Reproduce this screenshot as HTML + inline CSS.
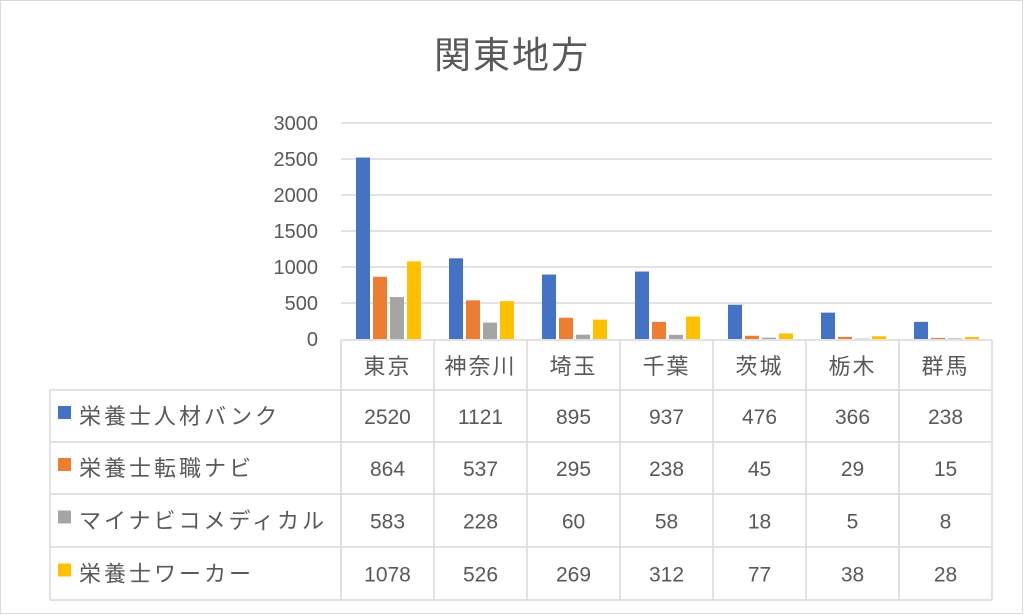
<!DOCTYPE html>
<html><head><meta charset="utf-8"><style>
body{margin:0;background:#fff}
svg{display:block;font-family:"Liberation Sans","Noto Sans CJK JP",sans-serif}
</style></head><body>
<svg id="c" width="1024" height="615" viewBox="0 0 1024 615">
<rect x="0.5" y="0.5" width="1022" height="613" fill="#fff" stroke="#d9d9d9"/>
<text x="512" y="68" text-anchor="middle" font-size="37" letter-spacing="2" fill="#595959">関東地方</text>
<g id="grid"></g><g id="yt"></g><g id="bars"></g><g id="tbl"></g>
</svg>
<script>
const categories=["東京","神奈川","埼玉","千葉","茨城","栃木","群馬"];
const seriesNames=["栄養士人材バンク","栄養士転職ナビ","マイナビコメディカル","栄養士ワーカー"];
const s1=[2520,1121,895,937,476,366,238];
const s2=[864,537,295,238,45,29,15];
const s3=[583,228,60,58,18,5,8];
const s4=[1078,526,269,312,77,38,28];
const yTicks=[0,500,1000,1500,2000,2500,3000];
const series=[s1,s2,s3,s4];
const colors=["#4472c4","#ed7d31","#a5a5a5","#ffc000"];
const NS="http://www.w3.org/2000/svg";
const X0=341,CW=93,Y0=339,YMAX=3000,PH=216;
const y=v=>Y0-v/YMAX*PH;
const xc=i=>X0+i*CW;
function mk(tag,attrs,parent,txt){const e=document.createElementNS(NS,tag);for(const k in attrs)e.setAttribute(k,attrs[k]);if(txt!==undefined)e.textContent=txt;document.getElementById(parent).appendChild(e);return e;}
yTicks.forEach(t=>{
  if(t>0){const l=mk("line",{x1:X0,x2:992,y1:y(t),y2:y(t),stroke:"#d9d9d9","stroke-width":1.5},"grid");
  
  }
  const tx=mk("text",{x:318,y:y(t)+7,"text-anchor":"end","font-size":20,fill:"#595959"},"yt",String(t));
  
  
});
series.forEach((s,si)=>{s.forEach((v,i)=>{
  const r=mk("rect",{x:xc(i)+15+si*17,y:y(v),width:14,height:Y0-y(v),fill:colors[si]},"bars");
  
  
});});
const rows=[340,390,442,494,547,600];
const g="tbl",st="#d9d9d9";
for(let r=0;r<rows.length;r++){const x1=r==0?X0:50;const l=mk("line",{x1:x1,x2:992,y1:rows[r],y2:rows[r],stroke:st,"stroke-width":1.5},g);

}
const vl=mk("line",{x1:50,x2:50,y1:390,y2:600,stroke:st,"stroke-width":1.5},g);


for(let i=0;i<=7;i++){const l=mk("line",{x1:xc(i),x2:xc(i),y1:340,y2:600,stroke:st,"stroke-width":1.5},g);

}
categories.forEach((c,i)=>{const t=mk("text",{x:xc(i)+CW/2,y:374,"text-anchor":"middle","font-size":22,"letter-spacing":2,fill:"#595959"},g,c);

});
seriesNames.forEach((n,si)=>{
  const cy=(rows[si+1]+rows[si+2])/2;
  const k=mk("rect",{x:58,y:cy-10,width:13,height:13,fill:colors[si]},g);
  
  
  const t=mk("text",{x:79,y:cy+8,"font-size":22,"letter-spacing":3,fill:"#595959"},g,n);
  
  
  series[si].forEach((v,i)=>{const c=mk("text",{x:xc(i)+CW/2,y:cy+8,"text-anchor":"middle","font-size":21,fill:"#595959"},g,String(v));
  
  });
});
</script>
</body></html>
